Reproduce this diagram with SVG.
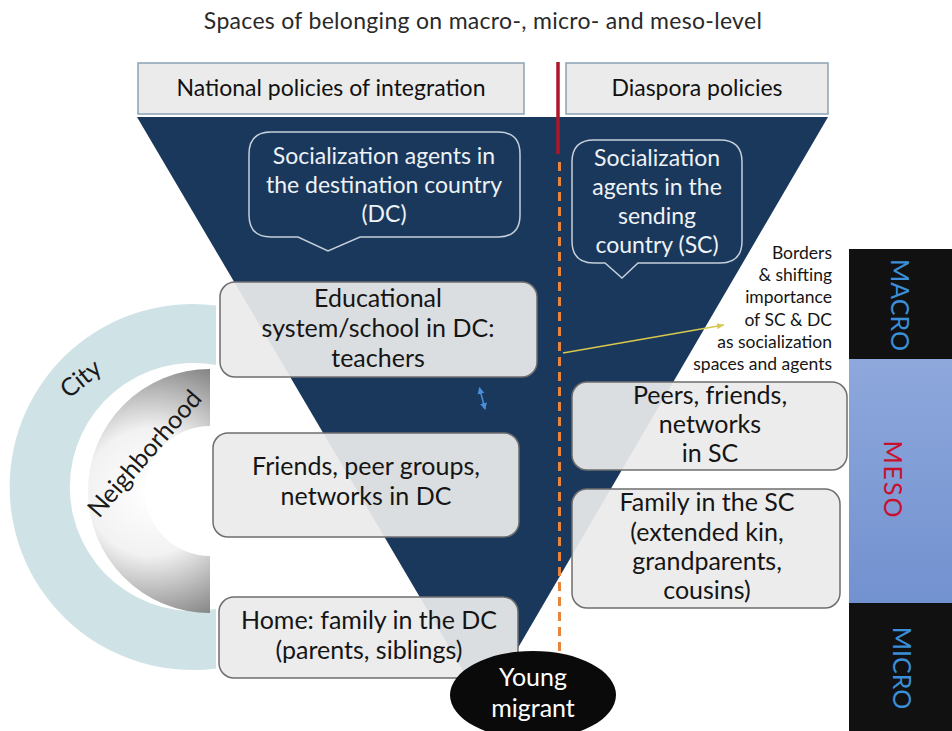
<svg xmlns="http://www.w3.org/2000/svg" width="952" height="731" viewBox="0 0 952 731">
<style>
  text { font-family: Lato, "Open Sans", "Liberation Sans", sans-serif; }
  .title { font-size: 23px; fill: #2a2a2a; letter-spacing: 0.3px; }
  .hdr-box { fill: #ebebeb; stroke: #8aa3b4; stroke-width: 1.5; }
  .hdr { font-size: 23px; fill: #111; text-anchor: middle; }
  .callout { fill: none; stroke: #c5cfd9; stroke-width: 1.5; }
  .ct { font-size: 23px; fill: #eef2f6; text-anchor: middle; }
  .box { fill: #ebebeb; fill-opacity: 0.93; stroke: #6e6e6e; stroke-width: 1.5; }
  .bt { font-size: 25px; fill: #151515; text-anchor: middle; }
  .note { font-size: 17.5px; fill: #151515; text-anchor: end; }
  .ring { font-size: 25px; fill: #1a1a1a; text-anchor: middle; }
  .lvl { font-size: 25px; text-anchor: middle; }
</style>
<defs>
  <radialGradient id="nb" gradientUnits="userSpaceOnUse" cx="150" cy="492" r="140">
    <stop offset="0" stop-color="#ffffff"/>
    <stop offset="0.45" stop-color="#f2f2f2"/>
    <stop offset="1" stop-color="#7e7e7e"/>
  </radialGradient>
  <linearGradient id="meso" x1="0" y1="0" x2="0" y2="1">
    <stop offset="0" stop-color="#8ea8dc"/>
    <stop offset="1" stop-color="#7291cf"/>
  </linearGradient>
  <marker id="ya" markerWidth="8" markerHeight="8" refX="7" refY="4" orient="auto" markerUnits="userSpaceOnUse">
    <path d="M0,1 L7,4 L0,7 Z" fill="#d8c84e"/>
  </marker>
  <marker id="ba" markerWidth="8" markerHeight="8" refX="6" refY="4" orient="auto-start-reverse" markerUnits="userSpaceOnUse">
    <path d="M0,0.5 L7,4 L0,7.5 Z" fill="#4a8fdc"/>
  </marker>
</defs>

<text class="title" x="483" y="29" text-anchor="middle">Spaces of belonging on macro-, micro- and meso-level</text>

<!-- big funnel -->
<g id="funnel">
  <path d="M137,117 L828,117 L484,706 Z" fill="#1a385c"/>
</g>

<!-- rings on the left -->
<g id="city">
  <path d="M216,305.5 A183,183 0 1 0 216,668.5 L216,609 A124,124 0 1 1 216,365 Z" fill="#cfe3e6"/>
  <text class="ring" transform="translate(81,379) rotate(-39)" y="8">City</text>
</g>
<g id="neighborhood">
  <path d="M210,369 A122,122 0 0 0 210,613 L210,556 A65,65 0 0 1 210,426 Z" fill="url(#nb)"/>
  <text class="ring" transform="translate(145,454) rotate(-49)" y="8">Neighborhood</text>
</g>

<!-- headers -->
<g id="hdr-national">
  <rect class="hdr-box" x="138" y="63" width="386" height="51"/>
  <text class="hdr" x="331" y="96">National policies of integration</text>
</g>
<g id="hdr-diaspora">
  <rect class="hdr-box" x="566" y="63" width="262" height="51"/>
  <text class="hdr" x="697" y="96">Diaspora policies</text>
</g>

<!-- connectors -->
<g id="connectors">
  <line x1="558" y1="62" x2="558" y2="154" stroke="#b0162b" stroke-width="3.5"/>
  <line x1="559.5" y1="162" x2="559.5" y2="664" stroke="#e8853a" stroke-width="3" stroke-dasharray="9 6"/>
  <line x1="563" y1="353" x2="724" y2="325" stroke="#d8c84e" stroke-width="1.6" marker-end="url(#ya)"/>
  <line x1="479.5" y1="388" x2="485" y2="409" stroke="#4a8fdc" stroke-width="1.5" marker-start="url(#ba)" marker-end="url(#ba)"/>
</g>

<!-- callouts -->
<g id="agents-dc">
  <path class="callout" d="M271,132 H498 Q520,132 520,154 V215 Q520,237 498,237 H360 L328,251 L298,237 H271 Q249,237 249,215 V154 Q249,132 271,132 Z"/>
  <text class="ct" x="384" y="164">Socialization agents in</text>
  <text class="ct" x="384" y="193">the destination country</text>
  <text class="ct" x="384" y="222">(DC)</text>
</g>
<g id="agents-sc">
  <path class="callout" d="M594,140 H720 Q742,140 742,162 V241 Q742,263 720,263 H638 L622,278 L605,263 H594 Q572,263 572,241 V162 Q572,140 594,140 Z"/>
  <text class="ct" x="657" y="166">Socialization</text>
  <text class="ct" x="657" y="195">agents in the</text>
  <text class="ct" x="657" y="224">sending</text>
  <text class="ct" x="657" y="253">country (SC)</text>
</g>

<!-- note -->
<g id="note">
  <text class="note" x="832" y="259">Borders</text>
  <text class="note" x="832" y="281">&amp; shifting</text>
  <text class="note" x="832" y="303">importance</text>
  <text class="note" x="832" y="326">of SC &amp; DC</text>
  <text class="note" x="832" y="348">as socialization</text>
  <text class="note" x="832" y="370">spaces and agents</text>
</g>

<!-- boxes -->
<g id="school">
  <rect class="box" x="220" y="282" width="317" height="95" rx="15"/>
  <text class="bt" x="378" y="307">Educational</text>
  <text class="bt" x="378" y="337">system/school in DC:</text>
  <text class="bt" x="378" y="367">teachers</text>
</g>
<g id="friends-dc">
  <rect class="box" x="213" y="433" width="306" height="104" rx="15"/>
  <text class="bt" x="366" y="475">Friends, peer groups,</text>
  <text class="bt" x="366" y="505">networks in DC</text>
</g>
<g id="home-dc">
  <rect class="box" x="219" y="597" width="299" height="81" rx="15"/>
  <text class="bt" x="369" y="629">Home: family in the DC</text>
  <text class="bt" x="369" y="659">(parents, siblings)</text>
</g>
<g id="peers-sc">
  <rect class="box" x="572" y="382" width="275" height="88" rx="15"/>
  <text class="bt" x="710" y="404">Peers, friends,</text>
  <text class="bt" x="710" y="433">networks</text>
  <text class="bt" x="710" y="462">in SC</text>
</g>
<g id="family-sc">
  <rect class="box" x="572" y="489" width="268" height="119" rx="15"/>
  <text class="bt" x="707" y="511">Family in the SC</text>
  <text class="bt" x="707" y="541">(extended kin,</text>
  <text class="bt" x="707" y="570">grandparents,</text>
  <text class="bt" x="707" y="599">cousins)</text>
</g>

<!-- young migrant -->
<g id="young-migrant">
  <ellipse cx="533" cy="695" rx="83" ry="44" fill="#0a0a0a"/>
  <text x="533" y="686" font-size="25" fill="#ffffff" text-anchor="middle">Young</text>
  <text x="533" y="717" font-size="25" fill="#ffffff" text-anchor="middle">migrant</text>
</g>

<!-- level bar -->
<g id="macro">
  <rect x="849" y="249" width="103" height="110" fill="#111112"/>
  <text class="lvl" transform="translate(900,305) rotate(90)" y="9" fill="#3a8fd8">MACRO</text>
</g>
<g id="meso">
  <rect x="849" y="359" width="103" height="244" fill="url(#meso)"/>
  <text class="lvl" transform="translate(895,480) rotate(90)" y="11" font-size="31" fill="#c8102e" letter-spacing="2">MESO</text>
</g>
<g id="micro">
  <rect x="849" y="603" width="103" height="128" fill="#111112"/>
  <text class="lvl" transform="translate(902,668) rotate(90)" y="9" fill="#3a8fd8">MICRO</text>
</g>
</svg>
